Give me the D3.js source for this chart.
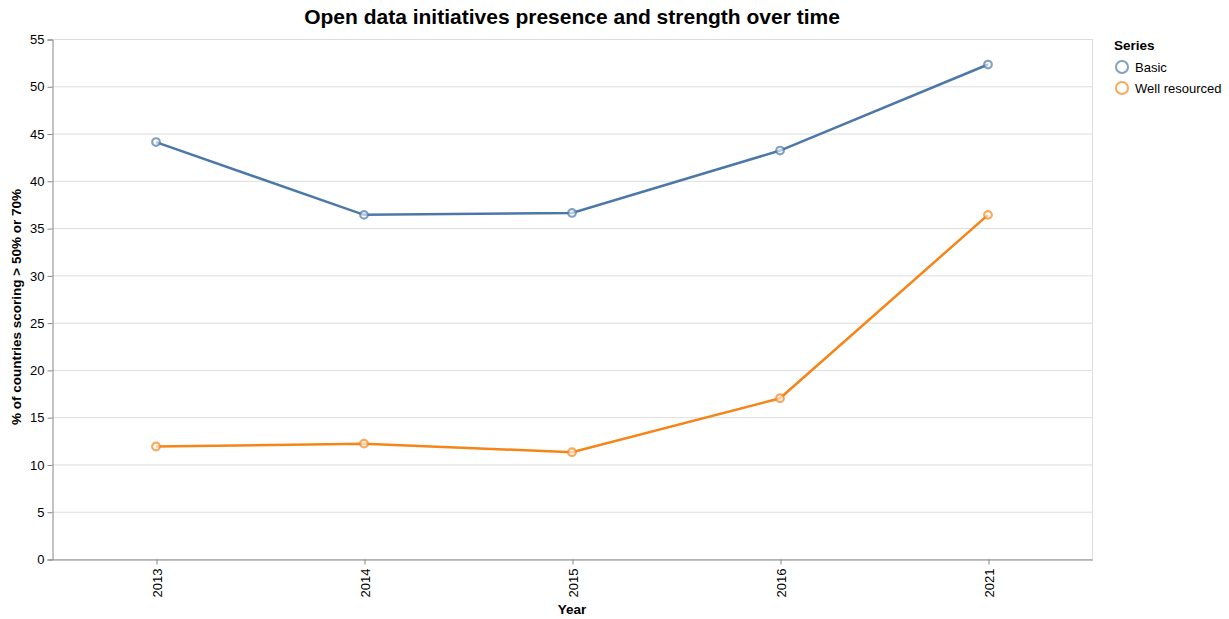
<!DOCTYPE html>
<html>
<head>
<meta charset="utf-8">
<script src="https://cdn.jsdelivr.net/npm/d3@7"></script>
<style>
  body { margin: 0; background: #fff; }
  svg { font-family: "Liberation Sans", Arial, Helvetica, sans-serif; }
</style>
</head>
<body>
<svg id="chart"></svg>
<script>
// data
var years = ["2013", "2014", "2015", "2016", "2021"]
var seriesNames = ["Basic", "Well resourced"]
var basicValues = [44.1, 36.4, 36.6, 43.2, 52.3]
var wellValues = [11.9, 12.2, 11.3, 17.0, 36.4]
var yTicks = [0, 5, 10, 15, 20, 25, 30, 35, 40, 45, 50, 55]
var seriesColors = ["#4c78a8", "#f58518"]

var dimensions = {
  width: 1229,
  height: 619,
  margin: {
    top: 39,
    bottom: 60,
    right: 137,
    left: 52
  }
}

var svg = d3.select("#chart")
  .attr("width", dimensions.width)
  .attr("height", dimensions.height)

var innerW = dimensions.width - dimensions.margin.left - dimensions.margin.right
var innerH = dimensions.height - dimensions.margin.top - dimensions.margin.bottom

var g = svg.append("g")
  .attr("transform", "translate(" + dimensions.margin.left + "," + dimensions.margin.top + ")")

var x = d3.scalePoint()
  .domain(years)
  .range([0, innerW])
  .padding(0.5)

var y = d3.scaleLinear()
  .domain([0, 55])
  .range([innerH, 0])

// grid lines
g.selectAll(".grid")
  .data(yTicks)
  .join("line")
  .attr("x1", 0)
  .attr("x2", innerW)
  .attr("y1", d => y(d) + 0.5)
  .attr("y2", d => y(d) + 0.5)
  .attr("stroke", "#ddd")

// view border on the right
g.append("line")
  .attr("x1", innerW + 0.5).attr("x2", innerW + 0.5)
  .attr("y1", 0).attr("y2", innerH)
  .attr("stroke", "#ddd")

// y axis
var yAxis = g.append("g")
  .attr("transform", "translate(0.5,0.5)")
  .call(d3.axisLeft(y).tickValues(yTicks).tickSize(5).tickPadding(3))
yAxis.select(".domain").attr("stroke", "#888")
yAxis.selectAll(".tick line").attr("stroke", "#888")
yAxis.selectAll("text").style("font-size", "13px").attr("fill", "#000")

// x axis
var xAxis = g.append("g")
  .attr("transform", "translate(0.5," + (innerH + 0.5) + ")")
  .call(d3.axisBottom(x).tickSize(5).tickSizeOuter(0))
xAxis.select(".domain").attr("stroke", "#888")
xAxis.selectAll(".tick line").attr("stroke", "#888")
xAxis.selectAll("text")
  .style("font-size", "13px")
  .attr("fill", "#000")
  .attr("transform", "rotate(-90)")
  .attr("text-anchor", "end")
  .attr("x", -9)
  .attr("y", 0)
  .attr("dy", "0.35em")

// axis titles
svg.append("text")
  .text("Year")
  .attr("x", dimensions.margin.left + innerW / 2)
  .attr("y", 614)
  .attr("text-anchor", "middle")
  .style("font-size", "13.5px")
  .style("font-weight", "bold")

svg.append("text")
  .text("% of countries scoring > 50% or 70%")
  .attr("transform", "translate(21," + (dimensions.margin.top + innerH / 2 + 8) + ") rotate(-90)")
  .attr("text-anchor", "middle")
  .style("font-size", "13.5px")
  .style("font-weight", "bold")

// title
svg.append("text")
  .text("Open data initiatives presence and strength over time")
  .attr("x", dimensions.margin.left + innerW / 2)
  .attr("y", 24)
  .attr("text-anchor", "middle")
  .style("font-size", "21px")
  .style("font-weight", "bold")

// lines and points
var allSeries = [basicValues, wellValues]
var line = d3.line()
  .x((d, i) => x(years[i]))
  .y(d => y(d))

allSeries.forEach(function(vals, s) {
  g.append("path")
    .datum(vals)
    .attr("d", line)
    .attr("fill", "none")
    .attr("stroke", seriesColors[s])
    .attr("stroke-width", 2.5)

  g.selectAll(".pt" + s)
    .data(vals)
    .join("circle")
    .attr("cx", (d, i) => x(years[i]))
    .attr("cy", d => y(d))
    .attr("r", 3.8)
    .attr("fill", "#fff")
    .attr("fill-opacity", 0.6)
    .attr("stroke", seriesColors[s])
    .attr("stroke-width", 2.2)
    .attr("stroke-opacity", 0.7)
})

// legend
var legend = svg.append("g").attr("transform", "translate(1114,0)")
legend.append("text")
  .text("Series")
  .attr("x", 0)
  .attr("y", 50)
  .style("font-size", "13.5px")
  .style("font-weight", "bold")

seriesNames.forEach(function(name, i) {
  legend.append("circle")
    .attr("cx", 8)
    .attr("cy", 67 + i * 21)
    .attr("r", 6)
    .attr("fill", "none")
    .attr("stroke", seriesColors[i])
    .attr("stroke-width", 2)
    .attr("stroke-opacity", 0.7)
  legend.append("text")
    .text(name)
    .attr("x", 21)
    .attr("y", 67 + i * 21)
    .attr("dy", "0.35em")
    .style("font-size", "13px")
})
</script>
</body>
</html>
